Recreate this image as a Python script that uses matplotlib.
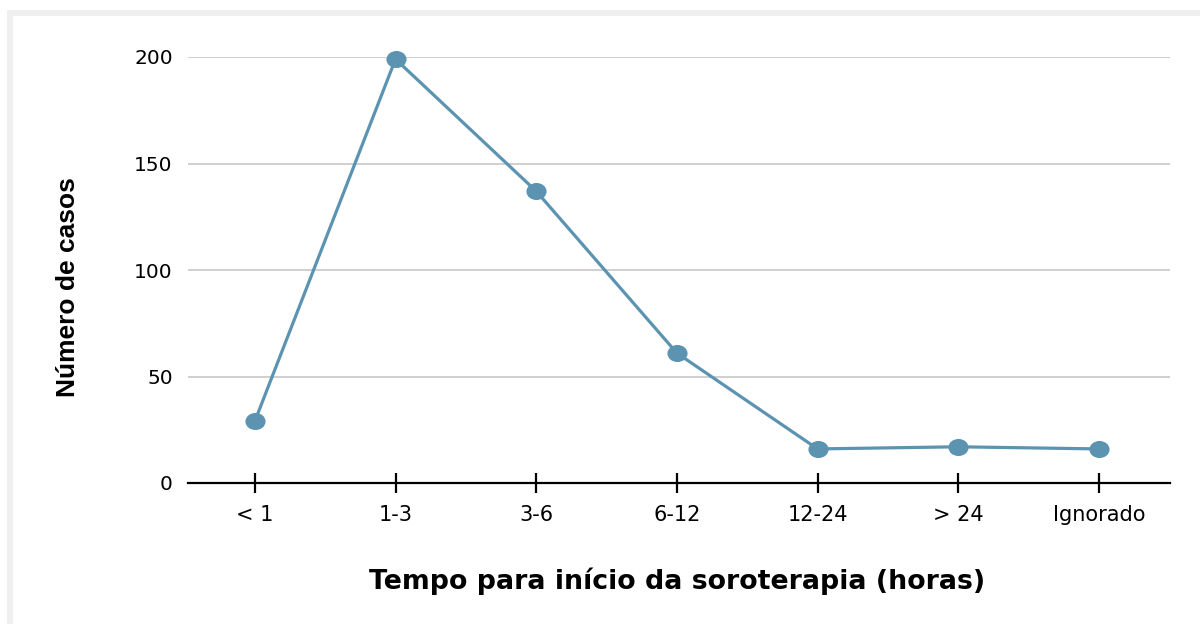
import matplotlib.pyplot as plt
from matplotlib.patches import Rectangle
from matplotlib.path import Path

categories = ['< 1', '1-3', '3-6', '6-12', '12-24', '> 24', 'Ignorado']
casos = [29, 199, 137, 61, 16, 17, 16]
y_ticks = [0, 50, 100, 150, 200]

line_color = '#5b93b1'

W, H = 1200, 624
fig = plt.figure(figsize=(W / 100, H / 100), dpi=100)
fig.patch.set_facecolor('white')

# light grey frame on top and left
fig.patches.append(Rectangle((7 / W, 1 - 16 / H), 1, 6 / H, transform=fig.transFigure,
                             facecolor='#efefef', edgecolor='none', zorder=0))
fig.patches.append(Rectangle((7 / W, 0), 6 / W, 1 - 10 / H, transform=fig.transFigure,
                             facecolor='#efefef', edgecolor='none', zorder=0))

# slightly wide ellipse marker (the original looks horizontally stretched)
circ = Path.unit_circle()
ellipse = Path(circ.vertices * [1.2, 1.0], circ.codes)

ax = fig.add_axes([188 / W, 1 - 483 / H, (1170 - 188) / W, (483 - 57) / H])
x = list(range(len(categories)))
ax.plot(x, casos, color=line_color, linewidth=2.3, marker=ellipse, markersize=13.5,
        clip_on=False, zorder=3)

ax.set_xlim(-0.475, 6.505)
ax.set_ylim(0, 200)
ax.set_yticks(y_ticks)
ax.set_xticks(x)
ax.set_xticklabels(categories)

ax.grid(axis='y', color='#cccccc', linewidth=1.3)
ax.set_axisbelow(True)
for s in ['top', 'right', 'left']:
    ax.spines[s].set_visible(False)
ax.spines['bottom'].set_color('black')
ax.spines['bottom'].set_linewidth(1.6)
ax.spines['bottom'].set_zorder(4)

ax.tick_params(axis='y', length=0, pad=11, labelsize=14.5)
ax.tick_params(axis='x', direction='inout', length=14, width=1.6, pad=9, labelsize=15)
for lbl in ax.get_xticklabels() + ax.get_yticklabels():
    lbl.set_family('DejaVu Sans')

fig.text(677 / W, 1 - 581 / H, 'Tempo para início da soroterapia (horas)',
         ha='center', va='center', fontsize=19.3, fontweight='bold', family='DejaVu Sans')
fig.text(68 / W, 1 - 287 / H, 'Número de casos', rotation=90,
         ha='center', va='center', fontsize=19, fontweight='bold',
         family='Liberation Sans')

fig.savefig('out.png', dpi=100)
